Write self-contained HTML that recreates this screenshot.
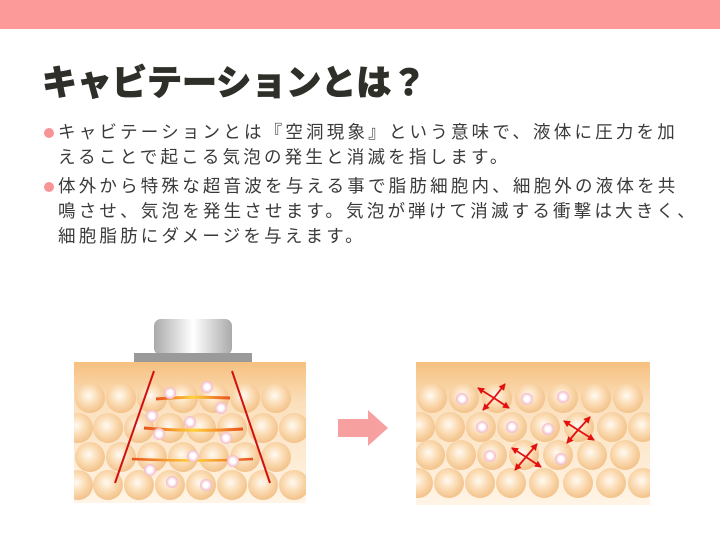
<!DOCTYPE html>
<html><head><meta charset="utf-8">
<style>
body{margin:0;width:720px;height:540px;background:#fff;position:relative;overflow:hidden;font-family:"Liberation Sans","Noto Sans CJK JP",sans-serif;}
.bar{position:absolute;left:0;top:0;width:720px;height:29px;background:#fc9a9a;}
h1{position:absolute;left:42px;top:62px;margin:0;font-size:35px;font-weight:900;color:#2f2f2a;letter-spacing:0px;line-height:44px;-webkit-text-stroke:0.8px #2f2f2a;}
.p{position:absolute;left:58px;font-size:17.5px;letter-spacing:3.2px;color:#3a3a3a;line-height:25px;margin:0;}
.b{position:absolute;left:44px;width:10px;height:10px;border-radius:50%;background:#f79494;}
svg{position:absolute;left:0;top:0;}
</style></head><body>
<div class="bar"></div>
<h1>キャビテーションとは？</h1>
<div class="b" style="top:128px"></div>
<p class="p" style="top:120px">キャビテーションとは『空洞現象』という意味で、液体に圧力を加<br>えることで起こる気泡の発生と消滅を指します。</p>
<div class="b" style="top:182px"></div>
<p class="p" style="top:174px">体外から特殊な超音波を与える事で脂肪細胞内、細胞外の液体を共<br>鳴させ、気泡を発生させます。気泡が弾けて消滅する衝撃は大きく、<br>細胞脂肪にダメージを与えます。</p>
<svg width="720" height="540">
<defs>
<linearGradient id="sk" x1="0" y1="0" x2="0" y2="1"><stop offset="0" stop-color="#f6c080"/><stop offset="0.3" stop-color="#fbe0bd"/><stop offset="1" stop-color="#fff4e6"/></linearGradient>
<radialGradient id="c" cx="0.45" cy="0.42" r="0.6"><stop offset="0" stop-color="#fffaf2"/><stop offset="0.5" stop-color="#fbdcb4"/><stop offset="1" stop-color="#f2c087"/></radialGradient>
<radialGradient id="bb" cx="0.5" cy="0.5" r="0.5"><stop offset="0.4" stop-color="#fff"/><stop offset="1" stop-color="#f2b8c8"/></radialGradient>
<linearGradient id="pr" x1="0" y1="0" x2="1" y2="0"><stop offset="0" stop-color="#aaa"/><stop offset="0.5" stop-color="#fff"/><stop offset="1" stop-color="#aaa"/></linearGradient>
<linearGradient id="wv" x1="0" y1="0" x2="1" y2="0"><stop offset="0" stop-color="#e8501e"/><stop offset="0.5" stop-color="#ffd23a"/><stop offset="1" stop-color="#e8501e"/></linearGradient>
<circle id="k" r="15" fill="url(#c)"/>
<circle id="q" r="6" fill="url(#bb)"/>
<marker id="ah" markerUnits="userSpaceOnUse" markerWidth="7" markerHeight="7" refX="6" refY="3.5" orient="auto"><path d="M0,0 L7,3.5 L0,7 z" fill="#e31010"/></marker>
<clipPath id="cl"><rect x="74" y="362" width="232" height="141"/></clipPath>
<clipPath id="cr"><rect x="416" y="362" width="234" height="143"/></clipPath>
</defs>
<rect x="74" y="362" width="232" height="141" fill="url(#sk)"/>
<g clip-path="url(#cl)">
<use href="#k" x="90" y="398"/><use href="#k" x="121" y="398"/><use href="#k" x="152" y="398"/><use href="#k" x="183" y="398"/><use href="#k" x="214" y="398"/><use href="#k" x="245" y="398"/><use href="#k" x="276" y="398"/>
<use href="#k" x="78" y="428"/><use href="#k" x="108" y="428"/><use href="#k" x="139" y="428"/><use href="#k" x="170" y="428"/><use href="#k" x="201" y="428"/><use href="#k" x="232" y="428"/><use href="#k" x="263" y="428"/><use href="#k" x="294" y="428"/>
<use href="#k" x="90" y="457"/><use href="#k" x="121" y="457"/><use href="#k" x="152" y="457"/><use href="#k" x="183" y="457"/><use href="#k" x="214" y="457"/><use href="#k" x="245" y="457"/><use href="#k" x="276" y="457"/>
<use href="#k" x="78" y="485"/><use href="#k" x="108" y="485"/><use href="#k" x="139" y="485"/><use href="#k" x="170" y="485"/><use href="#k" x="201" y="485"/><use href="#k" x="232" y="485"/><use href="#k" x="263" y="485"/><use href="#k" x="294" y="485"/>
</g>
<rect x="154" y="319" width="78" height="36" rx="7" fill="url(#pr)"/>
<rect x="134" y="353" width="118" height="9" fill="#9a9a9a"/>
<path d="M156,399 Q190,396 230,398" stroke="url(#wv)" stroke-width="3" fill="none"/>
<path d="M144,428 Q190,432 243,429" stroke="url(#wv)" stroke-width="3" fill="none"/>
<path d="M132,459 Q200,462 253,459" stroke="url(#wv)" stroke-width="2.5" fill="none"/>
<line x1="154" y1="371" x2="115" y2="483" stroke="#d01010" stroke-width="2"/>
<line x1="232" y1="371" x2="270" y2="483" stroke="#d01010" stroke-width="2"/>
<use href="#q" x="170" y="393"/><use href="#q" x="207" y="387"/><use href="#q" x="221" y="408"/><use href="#q" x="152" y="416"/><use href="#q" x="190" y="422"/><use href="#q" x="159" y="434"/><use href="#q" x="226" y="438"/><use href="#q" x="193" y="456"/><use href="#q" x="233" y="461"/><use href="#q" x="150" y="470"/><use href="#q" x="172" y="482"/><use href="#q" x="206" y="485"/>
<path d="M338,419 H368 V410 L388,428 L368,446 V437 H338 Z" fill="#f6a0a0"/>
<rect x="416" y="362" width="234" height="143" fill="url(#sk)"/>
<g clip-path="url(#cr)">
<use href="#k" x="432" y="398"/><use href="#k" x="464" y="398"/><use href="#k" x="497" y="398"/><use href="#k" x="530" y="398"/><use href="#k" x="563" y="398"/><use href="#k" x="596" y="398"/><use href="#k" x="628" y="398"/>
<use href="#k" x="420" y="427"/><use href="#k" x="450" y="427"/><use href="#k" x="481" y="427"/><use href="#k" x="512" y="427"/><use href="#k" x="545" y="427"/><use href="#k" x="579" y="427"/><use href="#k" x="612" y="427"/><use href="#k" x="643" y="427"/>
<use href="#k" x="430" y="455"/><use href="#k" x="461" y="455"/><use href="#k" x="492" y="455"/><use href="#k" x="524" y="455"/><use href="#k" x="558" y="455"/><use href="#k" x="592" y="455"/><use href="#k" x="625" y="455"/>
<use href="#k" x="418" y="483"/><use href="#k" x="449" y="483"/><use href="#k" x="480" y="483"/><use href="#k" x="511" y="483"/><use href="#k" x="544" y="483"/><use href="#k" x="578" y="483"/><use href="#k" x="611" y="483"/><use href="#k" x="643" y="483"/>
</g>
<use href="#q" x="462" y="399"/><use href="#q" x="527" y="399"/><use href="#q" x="563" y="397"/><use href="#q" x="482" y="427"/><use href="#q" x="512" y="427"/><use href="#q" x="548" y="429"/><use href="#q" x="490" y="456"/><use href="#q" x="561" y="459"/>
<g stroke="#e31010" stroke-width="1.8" marker-end="url(#ah)">
<line x1="494" y1="398" x2="478" y2="388"/><line x1="494" y1="398" x2="505" y2="384"/><line x1="494" y1="398" x2="483" y2="410"/><line x1="494" y1="398" x2="509" y2="408"/>
<line x1="578" y1="430" x2="564" y2="421"/><line x1="578" y1="430" x2="590" y2="417"/><line x1="578" y1="430" x2="567" y2="443"/><line x1="578" y1="430" x2="594" y2="440"/>
<line x1="526" y1="457" x2="512" y2="448"/><line x1="526" y1="457" x2="537" y2="444"/><line x1="526" y1="457" x2="515" y2="470"/><line x1="526" y1="457" x2="541" y2="467"/>
</g>
</svg>
</body></html>
